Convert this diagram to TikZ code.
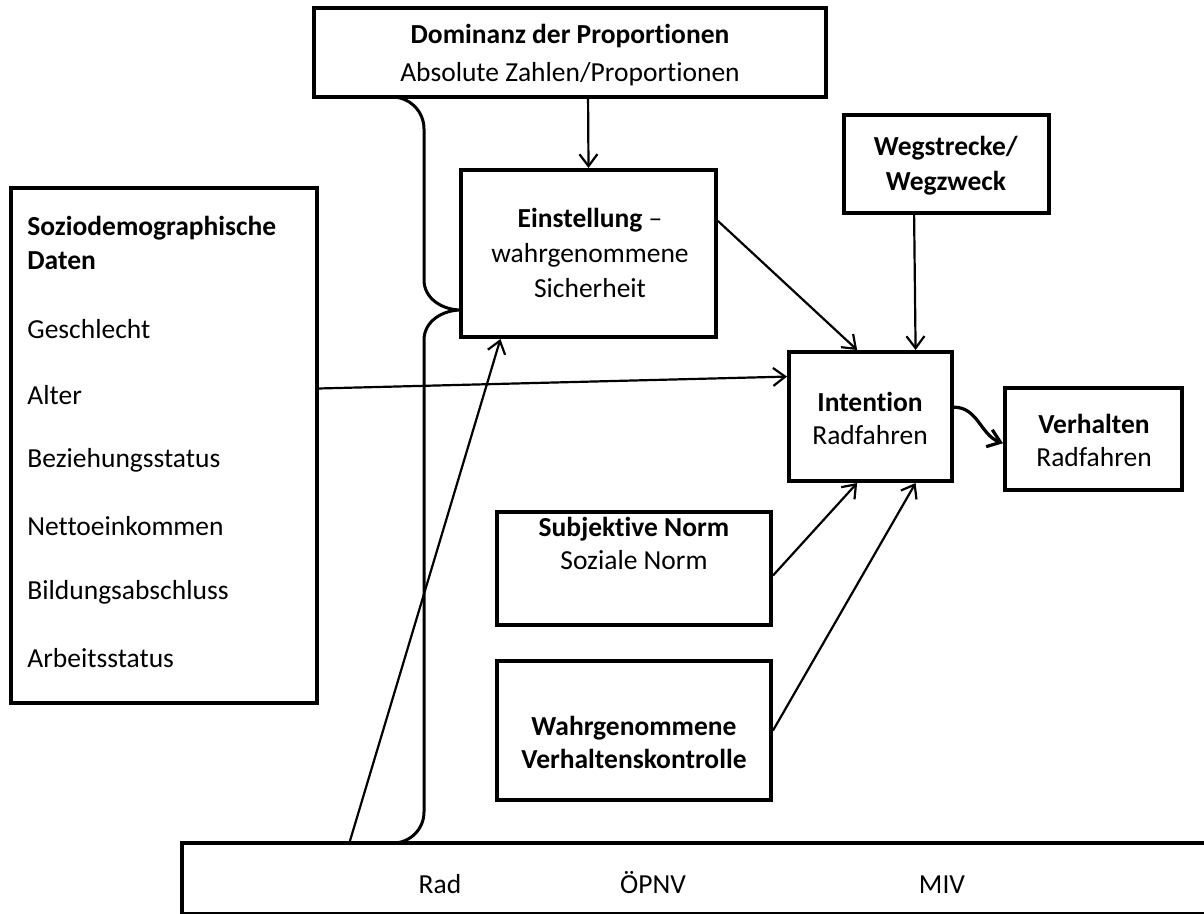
\documentclass[tikz,border=0pt]{standalone}
\usepackage{fontspec}
\setmainfont{Carlito}[Ligatures=NoCommon]
\usetikzlibrary{arrows.meta,fit,calc}
\begin{document}
\begin{tikzpicture}[x=0.5pt,y=-0.5pt,
  font=\fontsize{13.75pt}{16.5pt}\selectfont,
  box/.style={draw, line width=2pt, inner sep=0pt},
  arr/.style={line width=1.1pt, -{Straight Barb[length=6pt,width=9pt,line width=1.1pt]}},
  lbl/.style={anchor=west, inner sep=0pt},
  txt/.style={inner sep=0pt, align=center},
]
\useasboundingbox (0,0) rectangle (1204,914);
% boxes
\node[box, fit={(314,8) (826,97)}] (dom) {};
\node[txt] (domt) at (570,55) {\textbf{Dominanz der Proportionen}\\[2.5pt] Absolute Zahlen/Proportionen};
\node[box, fit={(461,170) (716,337)}] (ein) {};
\node[txt] (eint) at (590,253) {\textbf{Einstellung} --\\[0.8pt] wahrgenommene\\[0.8pt] Sicherheit};
\node[box, fit={(844,115) (1049,213)}] (weg) {};
\node[txt] (wegt) at (946,166) {\textbf{Wegstrecke/}\\[1pt]\textbf{Wegzweck}};
\node[box, line width=1.6pt, fit={(11,188) (317,703)}] (soz) {};
\node[box, fit={(789,352) (952,481)}] (int) {};
\node[txt] (intt) at (870,418) {\textbf{Intention}\\ Radfahren};
\node[box, fit={(1005,388) (1182,490)}] (ver) {};
\node[txt] (vert) at (1094,440) {\textbf{Verhalten}\\ Radfahren};
\node[box, fit={(497,512) (771,625)}] (sub) {};
\node[txt] (subt) at (634,543) {\textbf{Subjektive Norm}\\ Soziale Norm};
\node[box, fit={(497,661) (771,800)}] (wah) {};
\node[txt] (waht) at (634,742) {\textbf{Wahrgenommene}\\ \textbf{Verhaltenskontrolle}};
\node[box, fit={(182,843) (1240,914)}] (mod) {};
\node[inner sep=0pt, anchor=base] (rad) at (440,893) {Rad};
\node[inner sep=0pt, anchor=base] (oepnv) at (653,893) {ÖPNV};
\node[inner sep=0pt, anchor=base] (miv) at (942,893) {MIV};
% socio-demographic texts
\node[lbl] (s1) at (27,228) {\textbf{Soziodemographische}};
\node[lbl] (s2) at (27,261) {\textbf{Daten}};
\node[lbl] (s3) at (27,329) {Geschlecht};
\node[lbl] (s4) at (27,395) {Alter};
\node[lbl] (s5) at (27,460) {Beziehungsstatus};
\node[lbl] (s6) at (27,526) {Nettoeinkommen};
\node[lbl] (s7) at (27,592) {Bildungsabschluss};
\node[lbl] (s8) at (27,658) {Arbeitsstatus};
% brace
\draw[line width=1.5pt] (392,97) to[out=0,in=90] (424,129) -- (424,280)
  to[out=-90,in=180] (461,310) to[out=180,in=90] (424,340) -- (424,812)
  to[out=-90,in=0] (393,843);
% arrows
\draw[arr] ($(dom.south west)!0.535!(dom.south east)$) -- (ein.north);
\draw[arr] ($(ein.north east)!0.31!(ein.south east)$) -- ($(int.north west)!0.42!(int.north east)$);
\draw[arr] ($(weg.south west)!0.345!(weg.south east)$) -- ($(int.north west)!0.77!(int.north east)$);
\draw[arr] ($(soz.north east)!0.39!(soz.south east)$) -- ($(int.north west)!0.2!(int.south west)$);
\draw[arr] ($(sub.north east)!0.56!(sub.south east)$) -- ($(int.south west)!0.42!(int.south east)$);
\draw[arr] (wah.east) -- ($(int.south west)!0.77!(int.south east)$);
\draw[arr] ($(mod.north west)!0.16!(mod.north east)$) -- ($(ein.south west)!0.16!(ein.south east)$);
\draw[arr, line width=1.6pt, -{Straight Barb[length=6pt,width=9pt,line width=1.6pt]}]
  ($(int.north east)!0.43!(int.south east)$) to[out=0,in=160] ($(ver.north west)!0.54!(ver.south west)$);
\end{tikzpicture}
\end{document}
